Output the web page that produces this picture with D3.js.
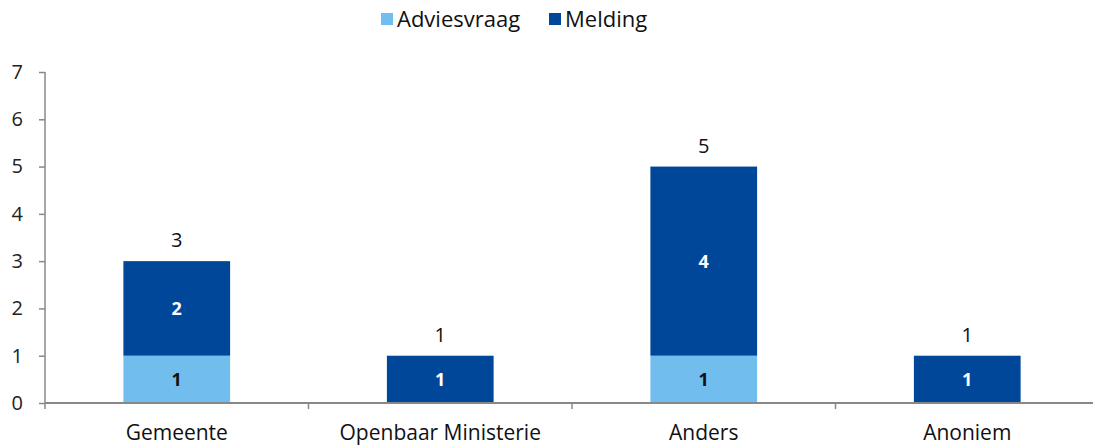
<!DOCTYPE html>
<html><head><meta charset="utf-8">
<script src="https://cdn.jsdelivr.net/npm/d3@7"></script>
<style>body{margin:0;background:#fff}svg{display:block}text{font-family:"Open Sans",sans-serif}</style>
</head><body><svg id="c" width="1093" height="446"></svg>
<script>
const categories = ["Gemeente","Openbaar Ministerie","Anders","Anoniem"];
const adviesvraag = [1,0,1,0];
const melding = [2,1,4,1];
const seriesNames = ["Adviesvraag","Melding"];
const colors = ["#71BDEE","#00479A"];
const yTicks = [0,1,2,3,4,5,6,7];

const svg = d3.select("#c");
const x = d3.scaleBand().domain(categories).range([45,1099]).paddingInner(0.595).paddingOuter(0.2975);
const y = d3.scaleLinear().domain([0,7]).range([403,72]);
const data = categories.map((c,i)=>({cat:c, Adviesvraag:adviesvraag[i], Melding:melding[i]}));
const stack = d3.stack().keys(seriesNames)(data);

svg.append("g").selectAll("g").data(stack).join("g").attr("fill",(d,i)=>colors[i])
 .selectAll("rect").data(d=>d.filter(p=>p[1]-p[0]>0)).join("rect")
 .attr("x",d=>x(d.data.cat)).attr("width",x.bandwidth())
 .attr("y",d=>y(d[1])).attr("height",d=>y(d[0])-y(d[1]));

// segment labels
stack.forEach((s,si)=>{
  svg.append("g").selectAll("text").data(s.filter(p=>p[1]-p[0]>0)).join("text")
   .attr("x",d=>x(d.data.cat)+x.bandwidth()/2).attr("y",d=>(y(d[0])+y(d[1]))/2+7)
   .attr("text-anchor","middle").attr("font-family","'DejaVu Sans Mono',monospace").attr("font-weight","bold")
   .attr("font-size",18).attr("fill",si===0?"#111":"#fff").text(d=>d[1]-d[0]);
});
// totals
svg.append("g").selectAll("text").data(data).join("text")
 .attr("x",d=>x(d.cat)+x.bandwidth()/2).attr("y",d=>y(d.Adviesvraag+d.Melding)-14)
 .attr("text-anchor","middle").attr("font-size",20).attr("fill","#111").text(d=>d.Adviesvraag+d.Melding);

// y axis
const ya = svg.append("g").attr("transform","translate(45,0)")
 .call(d3.axisLeft(y).tickValues(yTicks).tickSize(6).tickPadding(16).tickFormat(d3.format("d")));
ya.select(".domain").attr("stroke","#888").attr("stroke-width",1.5).attr("d","M0,"+y(7)+"V"+(y(0)+6));
ya.selectAll(".tick line").attr("stroke","#888").attr("stroke-width",1.5);
ya.selectAll(".tick text").attr("font-size",20).attr("fill","#222").attr("font-family","'Open Sans',sans-serif");

// x axis
const xa = svg.append("g").attr("transform","translate(0,"+y(0)+")");
xa.append("line").attr("x1",45).attr("x2",1093).attr("stroke","#888").attr("stroke-width",2);
const bounds = categories.slice(1).map(c=>x(c)-x.step()*x.paddingInner()/2);
xa.selectAll(".bt").data(bounds).join("line").attr("x1",d=>d).attr("x2",d=>d).attr("y1",0).attr("y2",6).attr("stroke","#888").attr("stroke-width",1.5);
xa.selectAll(".lbl").data(categories).join("text").attr("x",d=>x(d)+x.bandwidth()/2).attr("y",37)
 .attr("text-anchor","middle").attr("font-size",21).attr("fill","#111").text(d=>d);

// legend
const lg = svg.append("g");
const lx = [381,549];
seriesNames.forEach((n,i)=>{
  lg.append("rect").attr("x",lx[i]).attr("y",13).attr("width",12).attr("height",12).attr("fill",colors[i]);
  lg.append("text").attr("x",lx[i]+16).attr("y",27).attr("font-size",22).attr("fill","#111").text(n);
});
</script></body></html>
